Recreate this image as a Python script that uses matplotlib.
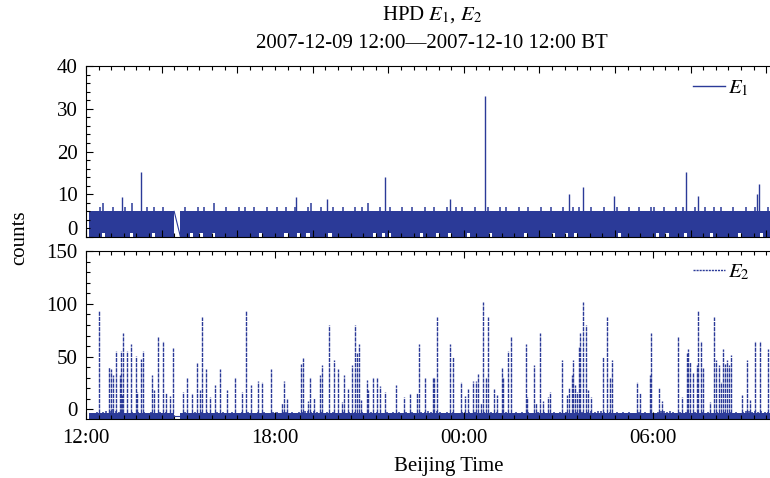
import numpy as np
import matplotlib
matplotlib.use("Agg")
import matplotlib.pyplot as plt
from matplotlib.ticker import MultipleLocator, FuncFormatter, FixedFormatter
from matplotlib.lines import Line2D

plt.rcParams['font.family'] = ['Liberation Serif', 'DejaVu Serif']
plt.rcParams['mathtext.fontset'] = 'stix'

# time axis: hours after 2007-12-09 12:00 BT, bins of 0.1 h starting at 0.1 h
bin_start = 0.1
bin_width = 0.1

# E1: upper edge of the dense band per bin ('-' = no data)
e1_band = ("6667866766676866667676676" "66" "--"
           "6766676766866676667676676667667667"
           "6676667866766676676667676866676676"
           "6676676667667666766767666766676667"
           "6766676676667667666766767666766676"
           "6676667667666776676667676667667667"
           "6766676667667666766767666766676667"
           "667666766")
# bins where E1 never dropped to 0 (hours)
e1_no_zero = [0.51, 1.49, 2.13, 3.40, 3.62, 4.03, 5.52, 6.32, 6.79, 7.05,
              7.75, 9.11, 9.40, 9.65, 10.6, 11.14, 11.56, 12.19, 12.83,
              13.94, 14.83, 15.27, 15.59, 16.95, 18.16, 18.44, 19.02,
              19.81, 20.76, 21.49]
# E1 isolated peaks (hour, counts)
e1_peak_t = [1.14, 1.75, 6.67, 7.65, 9.49, 11.56, 12.67, 15.33, 15.78,
             16.76, 19.05, 19.43, 21.30, 21.37]
e1_peak_v = [9.3, 15.3, 9.3, 9.0, 14.0, 9.0, 33.0, 10.0, 11.6,
             9.5, 15.3, 9.5, 10.0, 12.3]

# E2: upper edge of the dense band per bin (value = digit - 6)
e2_band = ("3343455654433434343433434" "33" "--"
           "3433434343343433433434334343344344"
           "3434455454434343343434343343433434"
           "3434343344545543434334343433434343"
           "3433434343343433434343343434545543"
           "4343434334343434554543434334343433"
           "4343434345545454434343343434343343"
           "434343343")
e2_peak_t = [0.42, 0.74, 0.79, 0.85, 0.94, 1.08, 1.10, 1.13, 1.18, 1.31,
             1.44, 1.58, 1.63, 1.75, 1.82, 2.09, 2.16, 2.30, 2.43, 2.53,
             2.67, 2.77, 3.07, 3.20, 3.36, 3.51, 3.62, 3.68, 3.81, 3.94,
             4.10, 4.25, 4.47, 4.73, 4.96, 5.08, 5.24, 5.45, 5.58, 5.86,
             6.21, 6.28, 6.37, 6.83, 6.90, 7.04, 7.11, 7.24, 7.43, 7.48,
             7.72, 7.88, 7.99, 8.12, 8.20, 8.33, 8.44, 8.54, 8.59, 8.68,
             8.73, 8.91, 8.96, 9.10, 9.25, 9.33, 9.49, 9.84, 10.10, 10.29,
             10.50, 10.58, 10.76, 11.01, 11.06, 11.13, 11.56, 11.64, 11.90, 12.03,
             12.14, 12.28, 12.40, 12.44, 12.54, 12.61, 12.70, 12.75, 12.96, 13.05,
             13.22, 13.25, 13.41, 13.51, 13.96, 14.01, 14.22, 14.28, 14.43, 14.50,
             14.66, 14.74, 15.11, 15.28, 15.34, 15.42, 15.47, 15.52, 15.58, 15.66,
             15.70, 15.79, 15.89, 15.95, 16.03, 16.42, 16.55, 16.63, 16.71, 17.50,
             17.59, 17.90, 17.95, 18.19, 18.28, 18.80, 18.91, 19.07, 19.12, 19.17,
             19.26, 19.39, 19.44, 19.54, 19.60, 19.81, 19.94, 20.02, 20.10, 20.15,
             20.23, 20.29, 20.36, 20.42, 20.48, 20.83, 20.99, 21.10, 21.24, 21.40,
             21.66]
e2_peak_v = [93, 40, 38, 33, 55, 33, 55, 14, 72, 55,
             62, 51, 17, 48, 55, 33, 18, 69, 65, 16,
             13, 58, 17, 30, 15, 44, 18, 88, 38, 12,
             23, 38, 18, 31, 17, 93, 23, 27, 26, 38,
             6, 27, 10, 43, 49, 8, 31, 11, 33, 42,
             80, 47, 38, 7, 33, 19, 42, 80, 53, 62,
             9, 28, 18, 31, 31, 22, 17, 23, 12, 15,
             16, 62, 30, 31, 31, 88, 62, 50, 26, 13,
             19, 27, 27, 34, 6, 102, 31, 88, 19, 14,
             39, 31, 55, 69, 62, 12, 42, 6, 72, 8,
             12, 17, 47, 14, 20, 33, 47, 23, 17, 59,
             72, 102, 80, 18, 12, 50, 88, 30, 47, 26,
             16, 33, 72, 20, 8, 69, 12, 53, 57, 45,
             35, 42, 93, 65, 39, 7, 88, 47, 42, 26,
             57, 43, 47, 42, 52, 14, 47, 9, 65, 65,
             57]

e1_yticks = [0, 10, 20, 30, 40]
x_end = 21.72
navy = '#2b3a98'


def segments(band):
    # split a band string into runs without '-'
    runs, cur = [], []
    for k, c in enumerate(band):
        if c == '-':
            if cur:
                runs.append(cur)
            cur = []
        else:
            cur.append(k)
    if cur:
        runs.append(cur)
    return runs


def hour_label(h, pos):
    return "%02d:00" % ((12 + int(round(h))) % 24)


fig = plt.figure(figsize=(7.7, 4.78), dpi=100)
ax1 = fig.add_axes([86 / 770, 1 - 237 / 478, 684 / 770, 171 / 478])
ax2 = fig.add_axes([86 / 770, 1 - 419 / 478, 684 / 770, 168 / 478])

# ---- E1 ----
e1_hi = np.array([0 if c == '-' else int(c) for c in e1_band], float)
e1_lo = np.zeros(len(e1_band))
for h in e1_no_zero:
    e1_lo[int((h - bin_start) / bin_width)] = 1
e1_solid = np.minimum(e1_hi, 6)
runs = segments(e1_band)
for run in runs:
    idx = np.array(run)
    edges = bin_start + bin_width * np.append(idx, idx[-1] + 1)
    ax1.stairs(e1_solid[idx], edges, baseline=e1_lo[idx], fill=True,
               color=navy, lw=0)
    # thin excursions above the solid band
    up = idx[e1_hi[idx] > 6]
    ax1.vlines(bin_start + bin_width * (up + 0.5), 6, e1_hi[up],
               color=navy, lw=1.1)
g0 = bin_start + bin_width * (runs[0][-1] + 1)
g1 = bin_start + bin_width * runs[1][0]
ax1.plot([g0, g1], [e1_hi[runs[0][-1]], 0], color=navy, lw=0.8)
ax1.vlines(e1_peak_t, 5, e1_peak_v, color=navy, lw=1.0)

# ---- E2 ----
e2_hi = np.array([0 if c == '-' else int(c) - 6 for c in e2_band], float)
runs = segments(e2_band)
for run in runs:
    idx = np.array(run)
    edges = bin_start + bin_width * np.append(idx, idx[-1] + 1)
    ax2.stairs(np.minimum(e2_hi[idx], -3), edges, baseline=-12, fill=True,
               color=navy, lw=0)
    up = idx[e2_hi[idx] > -3]
    ax2.vlines(bin_start + bin_width * (up + 0.5), -3, e2_hi[up],
               color=navy, lw=1.1)
g0 = bin_start + bin_width * (runs[0][-1] + 1)
g1 = bin_start + bin_width * runs[1][0]
ax2.plot([g0, g1], [-6, -6], color=navy, lw=0.8)
ax2.vlines(e2_peak_t, -3, e2_peak_v, color=navy, lw=1.0,
           linestyles=[(0, (3, 0.7))])

# ---- axes styling ----
for ax in (ax1, ax2):
    ax.set_xlim(0, x_end)
    ax.xaxis.set_minor_locator(MultipleLocator(0.4))
    ax.tick_params(which='both', direction='in', top=True, right=False,
                   labelsize=15, width=0.8, colors='black')
    ax.tick_params(which='major', length=5)
    ax.tick_params(which='minor', length=3)
    ax.tick_params(axis='y', pad=6, labelsize=15)
    ax.spines['right'].set_visible(False)
    for s in ('left', 'top', 'bottom'):
        ax.spines[s].set_linewidth(0.8)

ax1.set_ylim(0, 40)
ax1.set_yticks(e1_yticks)
# the lowest label sits a little above its tick, clear of the panel below
ax1.yaxis.set_major_formatter(FixedFormatter([''] + [str(v) for v in e1_yticks[1:]]))
ax1.yaxis.set_minor_locator(MultipleLocator(2))
ax1.xaxis.set_major_locator(MultipleLocator(2.4))
ax1.tick_params(axis='x', labelbottom=False)
fig.text(78 / 770, 1 - 231 / 478, str(e1_yticks[0]), ha='right',
         va='center', fontsize=15)

ax2.set_ylim(-9, 150)
ax2.yaxis.set_major_locator(MultipleLocator(50))
ax2.yaxis.set_minor_locator(MultipleLocator(10))
ax2.xaxis.set_major_locator(MultipleLocator(6))
ax2.xaxis.set_major_formatter(FuncFormatter(hour_label))
ax2.tick_params(axis='x', pad=7)

h1 = [Line2D([], [], color=navy, lw=1.0)]
ax1.legend(h1, ['$E_1$'], loc='center left',
           bbox_to_anchor=((693 - 86) / 684, (237 - 88) / 171),
           frameon=False, fontsize=15, handlelength=1.55,
           handletextpad=0.15, borderpad=0, borderaxespad=0)
h2 = [Line2D([], [], color=navy, lw=1.0, ls=(0, (1.5, 0.7)))]
ax2.legend(h2, ['$E_2$'], loc='center left',
           bbox_to_anchor=((693 - 86) / 684, (419 - 272) / 168),
           frameon=False, fontsize=15, handlelength=1.55,
           handletextpad=0.15, borderpad=0, borderaxespad=0)

fig.text(432 / 770, 1 - 15 / 478, 'HPD $E_1$, $E_2$', ha='center',
         va='center', fontsize=15)
fig.text(432 / 770, 1 - 44 / 478, '2007-12-09 12:00\u20142007-12-10 12:00 BT',
         ha='center', va='center', fontsize=15)
fig.text(20 / 770, 1 - 238 / 478, 'counts', rotation=90, ha='center',
         va='center', fontsize=15)
fig.text(449 / 770, 1 - 466 / 478, 'Beijing Time', ha='center',
         va='center', fontsize=15)

fig.savefig('out.png', dpi=100)
